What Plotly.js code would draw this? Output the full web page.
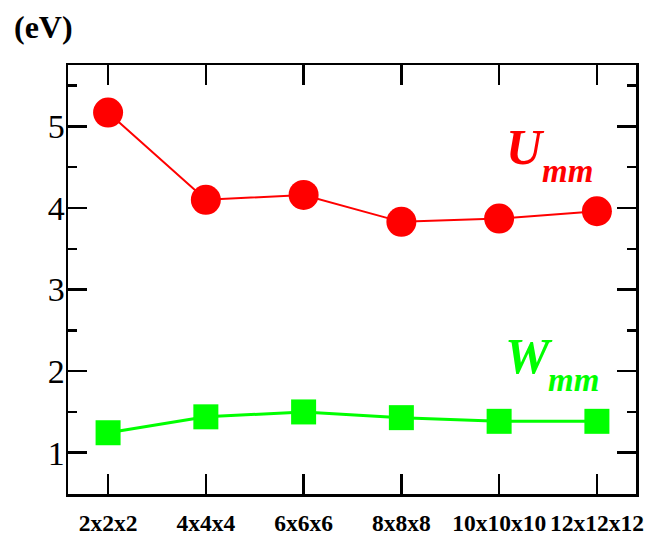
<!DOCTYPE html>
<html>
<head>
<meta charset="utf-8">
<script src="https://cdn.plot.ly/plotly-3.0.1.min.js"></script>
<style>html,body{margin:0;padding:0;background:#fff;}#chart{width:648px;height:536px;}</style>
</head>
<body>
<div id="chart"></div>
<script>
const categories = ["2x2x2", "4x4x4", "6x6x6", "8x8x8", "10x10x10", "12x12x12"];
const uValues = [5.17, 4.10, 4.16, 3.83, 3.87, 3.96];
const wValues = [1.245, 1.44, 1.50, 1.43, 1.385, 1.385];
const yTicks = [1, 2, 3, 4, 5];

const font = "Liberation Serif, Times New Roman, serif";

const traces = [
  {
    x: categories, y: uValues, type: "scatter", mode: "lines+markers",
    line: {color: "#ff0000", width: 2},
    marker: {symbol: "circle", size: 30, color: "#ff0000"},
    cliponaxis: false, showlegend: false
  },
  {
    x: categories, y: wValues, type: "scatter", mode: "lines+markers",
    line: {color: "#00ff00", width: 3},
    marker: {symbol: "square", size: 25, color: "#00ff00"},
    cliponaxis: false, showlegend: false
  }
];

const layout = {
  width: 648, height: 536,
  margin: {l: 68, r: 12, t: 65, b: 42},
  paper_bgcolor: "#fff", plot_bgcolor: "#fff",
  font: {family: font, color: "#000"},
  xaxis: {
    type: "category", range: [-0.41, 5.40],
    showgrid: false, zeroline: false,
    showline: true, linecolor: "#000", linewidth: 2.5, mirror: "ticks",
    ticks: "inside", ticklen: 20, tickwidth: 2.5, tickcolor: "#000",
    tickangle: 0,
    tickfont: {family: font, size: 23.5, color: "#000", weight: "bold"},
    ticklabelstandoff: 6
  },
  yaxis: {
    range: [0.494, 5.753],
    tickvals: yTicks, ticktext: yTicks.map(String),
    showgrid: false, zeroline: false,
    showline: true, linecolor: "#000", linewidth: 2.5, mirror: "ticks",
    ticks: "inside", ticklen: 19, tickwidth: 2.5, tickcolor: "#000",
    tickfont: {family: font, size: 34, color: "#000"},
    ticklabelstandoff: -6,
    minor: {tickvals: [0.5, 1.5, 2.5, 3.5, 4.5, 5.5], ticks: "inside", ticklen: 9, tickwidth: 2.5, tickcolor: "#000", showgrid: false}
  },
  annotations: [
    {text: "<b>(eV)</b>", xref: "paper", yref: "paper", x: -0.1, y: 1.0,
     xanchor: "left", yanchor: "bottom", showarrow: false,
     font: {family: font, size: 32, color: "#000"}, yshift: 18, xshift: 1},
    {text: "<b><i>U</i></b>", xref: "x", yref: "y", x: 4.0, y: 4.75, xanchor: "left", yanchor: "middle",
     showarrow: false, xshift: 5, font: {family: font, size: 50, color: "#ff0000"}},
    {text: "<b><i>mm</i></b>", xref: "x", yref: "y", x: 4.0, y: 4.45, xanchor: "left", yanchor: "middle",
     showarrow: false, xshift: 41, font: {family: font, size: 33, color: "#ff0000"}},
    {text: "<b><i>W</i></b>", xref: "x", yref: "y", x: 4.0, y: 2.19, xanchor: "left", yanchor: "middle",
     showarrow: false, xshift: 4, font: {family: font, size: 50, color: "#00ff00"}},
    {text: "<b><i>mm</i></b>", xref: "x", yref: "y", x: 4.0, y: 1.89, xanchor: "left", yanchor: "middle",
     showarrow: false, xshift: 47, font: {family: font, size: 33, color: "#00ff00"}}
  ]
};

Plotly.newPlot("chart", traces, layout, {displayModeBar: false, staticPlot: true});
</script>
</body>
</html>
